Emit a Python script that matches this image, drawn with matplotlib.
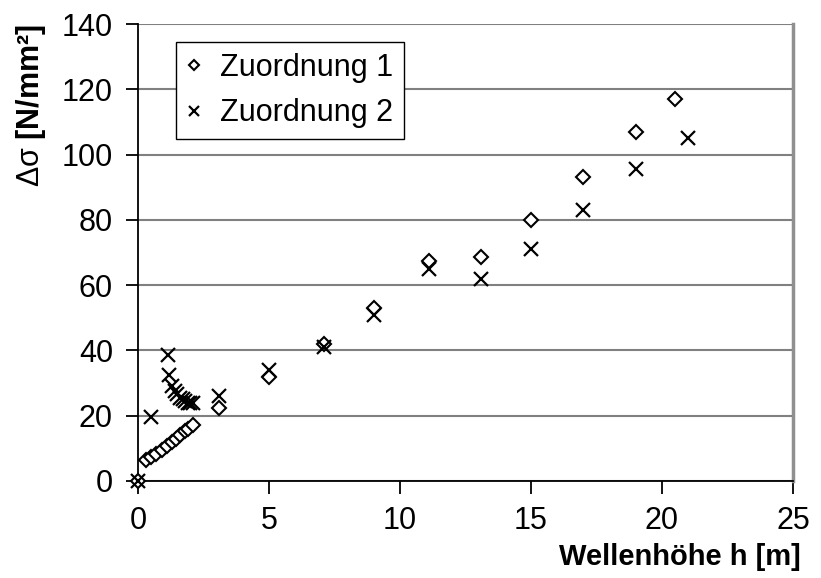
import numpy as np
import matplotlib.pyplot as plt

plt.rcParams['font.family'] = ['Liberation Sans', 'DejaVu Sans']
plt.rcParams['mathtext.fontset'] = 'custom'
plt.rcParams['mathtext.rm'] = 'Liberation Sans'

# Zuordnung 1 (diamonds)
h1 = [0.0, 0.3, 0.5, 0.7, 0.9, 1.1, 1.3, 1.45, 1.6, 1.8, 1.9, 2.1,
      3.1, 5.0, 7.1, 9.0, 11.1, 13.1, 15.0, 17.0, 19.0, 20.5]
s1 = [0.0, 6.3, 7.2, 8.3, 9.5, 10.6, 12.0, 13.0, 14.2, 15.3, 16.0, 17.3,
      22.5, 32.0, 42.0, 53.0, 67.5, 68.5, 80.0, 93.0, 107.0, 117.0]

# Zuordnung 2 (crosses)
h2 = [0.0, 0.5, 1.15, 1.2, 1.3, 1.4, 1.5, 1.6, 1.7, 1.8, 1.9, 2.0, 2.1,
      3.1, 5.0, 7.1, 9.0, 11.1, 13.1, 15.0, 17.0, 19.0, 21.0]
s2 = [0.0, 19.5, 38.5, 32.5, 29.0, 27.5, 26.5, 25.5, 25.0, 24.5, 24.0, 24.0, 24.0,
      26.0, 34.0, 41.0, 51.0, 65.0, 62.0, 71.0, 83.0, 95.5, 105.0]

xticks = [0, 5, 10, 15, 20, 25]
yticks = [0, 20, 40, 60, 80, 100, 120, 140]

fig = plt.figure(figsize=(8.21, 5.78), dpi=100)
ax = fig.add_axes([138 / 821, 1 - 481 / 578, (793 - 138) / 821, (481 - 24) / 578])

ax.plot(h1, s1, linestyle='none', marker='D', markersize=7,
        markerfacecolor='white', markeredgecolor='black', markeredgewidth=1.5,
        label='Zuordnung 1', clip_on=False, zorder=3)
ax.plot(h2, s2, linestyle='none', marker='x', markersize=10.5,
        color='black', markeredgewidth=1.6, label='Zuordnung 2',
        clip_on=False, zorder=3)

ax.set_xlim(0, 25)
ax.set_ylim(0, 140)
ax.set_xticks(xticks)
ax.set_yticks(yticks)
ax.yaxis.grid(True, color='#808080', linewidth=1.5)
ax.set_axisbelow(True)

ax.spines['top'].set_visible(False)
ax.spines['right'].set_color('#909090')
ax.spines['right'].set_linewidth(2.5)
ax.spines['left'].set_linewidth(1.3)
ax.spines['bottom'].set_linewidth(1.3)
ax.tick_params(axis='both', labelsize=22, direction='out', length=9, width=1.3)
ax.tick_params(axis='x', pad=9)
ax.tick_params(axis='y', pad=9)

ax.set_xlabel('Wellenhöhe h [m]', fontsize=21, fontweight='bold', ha='right')
ax.xaxis.set_label_coords(1.012, -0.135)
ax.set_ylabel(r'$\mathrm{\Delta\sigma}$ [N/mm²]', fontsize=22, fontweight='bold',
              ha='right', va='center')
ax.yaxis.set_label_coords(-0.163, 1.0)

leg = ax.legend(loc='upper left', bbox_to_anchor=(0.058, 0.96), fontsize=22,
                frameon=True, fancybox=False, edgecolor='black',
                handlelength=0.5, handletextpad=0.6, borderpad=0.35,
                borderaxespad=0, labelspacing=0.5, markerscale=0.75)
leg.get_frame().set_linewidth(1.0)
leg.get_frame().set_alpha(1)

fig.savefig('out.png', dpi=100)
